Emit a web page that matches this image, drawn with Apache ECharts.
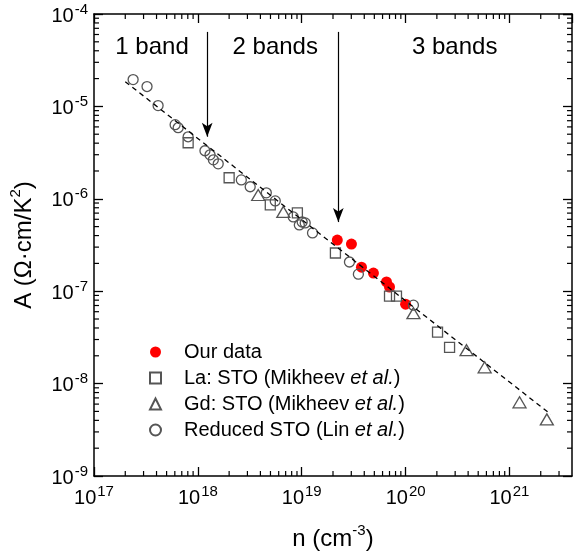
<!DOCTYPE html>
<html>
<head>
<meta charset="utf-8">
<script src="https://cdn.jsdelivr.net/npm/echarts@6/dist/echarts.min.js"></script>
<style>html,body{margin:0;padding:0;background:#fff}#c{width:580px;height:560px}</style>
</head>
<body>
<div id="c"></div>
<script>
// ---- data ----
var ourData = [[2.20e19,3.58e-7],[3.01e19,3.24e-7],[3.76e19,1.82e-7],[4.90e19,1.57e-7],[6.55e19,1.26e-7],[7.0e19,1.11e-7],[1.0e20,7.24e-8]];
var laSTO = [[8.06e17,4.04e-6],[2.0e18,1.69e-6],[4.98e18,8.59e-7],[9.08e18,7.03e-7],[2.11e19,2.59e-7],[7.0e19,8.85e-8],[8.17e19,8.85e-8],[2.03e20,3.6e-8],[2.65e20,2.47e-8]];
var gdSTO = [[3.81e18,1.10e-6],[6.65e18,7.21e-7],[1.19e20,5.78e-8],[3.86e20,2.30e-8],[5.77e20,1.50e-8],[1.25e21,6.27e-9],[2.29e21,4.10e-9]];
var reducedSTO = [[2.38e17,1.95e-5],[3.24e17,1.64e-5],[4.14e17,1.02e-5],[6.04e17,6.34e-6],[6.46e17,5.88e-6],[8.06e17,4.69e-6],[1.17e18,3.31e-6],[1.31e18,2.99e-6],[1.41e18,2.64e-6],[1.57e18,2.39e-6],[2.62e18,1.60e-6],[3.19e18,1.35e-6],[4.56e18,1.16e-6],[5.56e18,9.49e-7],[8.29e18,6.36e-7],[9.48e18,5.21e-7],[1.01e19,5.61e-7],[1.08e19,5.48e-7],[1.27e19,4.27e-7],[2.88e19,2.07e-7],[3.51e19,1.53e-7],[1.19e20,7.06e-8]];
var fitLine = [[2.0e17,1.85e-5],[2.5e21,4.65e-9]];
var arrows = [[[1.23e18,6.4e-5],[1.23e18,4.7e-6]],[[2.25e19,6.4e-5],[2.25e19,5.6e-7]]];
var bandLabels = [{name:'1 band',coord:[3.62e17,4.34e-5]},{name:'2 bands',coord:[5.56e18,4.34e-5]},{name:'3 bands',coord:[2.97e20,4.34e-5]}];
var xMin = 1e17, xMax = 4e21, yMin = 1e-9, yMax = 1e-4;
var xDecades = [17,18,19,20,21];
var yDecades = [-9,-8,-7,-6,-5];
var minorMult = [2,3,4,5,6,7,8,9];

var xMinor = [], yMinor = [];
xDecades.forEach(function(d){minorMult.forEach(function(m){var v=m*Math.pow(10,d); if(v<xMax) xMinor.push([v]);});});
yDecades.forEach(function(d){minorMult.forEach(function(m){yMinor.push([m*Math.pow(10,d)]);});});

var FONT = '"Liberation Sans", Arial, sans-serif';
var INK = '#000';
var GRAY = '#555';

function decadeLabel(v){
  var e = Math.log10(v); var r = Math.round(e);
  if (Math.abs(e-r) > 1e-6) return '';
  return '{b|10}{s|' + r + '}';
}
var tickRich = {
  b:{fontSize:20,fontFamily:FONT,color:INK,lineHeight:24,verticalAlign:'bottom'},
  s:{fontSize:15,fontFamily:FONT,color:INK,lineHeight:15,verticalAlign:'top',padding:[0,0,0,1]}
};
var nameRich = {
  b:{fontSize:24,fontFamily:FONT,color:INK,lineHeight:28,verticalAlign:'bottom'},
  s:{fontSize:15,fontFamily:FONT,color:INK,lineHeight:15,verticalAlign:'top'}
};

var chart = echarts.init(document.getElementById('c'), null, {renderer:'canvas'});

function mainAxisCommon(){
  return {
    axisLine:{show:true,onZero:false,lineStyle:{color:INK,width:1.5}},
    axisTick:{show:true,inside:true,length:9,lineStyle:{color:INK,width:1.3}},
    splitLine:{show:false},
    minorTick:{show:false}
  };
}

var xa0 = Object.assign(mainAxisCommon(), {
  type:'log', logBase:10, min:xMin, max:xMax, position:'bottom',
  axisLabel:{formatter:decadeLabel, margin:8, rich:tickRich, showMaxLabel:false},
  name:'{b|n (cm}{s|-3}{b|)}', nameLocation:'middle', nameGap:47,
  nameTextStyle:{rich:nameRich}
});
var xa1 = Object.assign(mainAxisCommon(), {
  type:'log', logBase:10, min:xMin, max:xMax, position:'top',
  axisLabel:{show:false}
});
var ya0 = Object.assign(mainAxisCommon(), {
  type:'log', logBase:10, min:yMin, max:yMax, position:'left',
  axisLabel:{formatter:decadeLabel, margin:6, rich:tickRich},
  name:'{b|A (Ω·cm/K}{s|2}{b|)}', nameLocation:'middle', nameGap:58, nameRotate:90,
  nameTextStyle:{rich:nameRich}
});
var ya1 = Object.assign(mainAxisCommon(), {
  type:'log', logBase:10, min:yMin, max:yMax, position:'right',
  axisLabel:{show:false}
});

function openStyle(){ return {color:'rgba(0,0,0,0)', borderColor:GRAY, borderWidth:1.3, opacity:1}; }

var legendRich = {
  n:{fontSize:20,fontFamily:FONT,color:INK,lineHeight:20},
  i:{fontSize:20,fontFamily:FONT,color:INK,lineHeight:20,fontStyle:'italic'}
};

var option = {
  animation:false,
  backgroundColor:'#fff',
  textStyle:{fontFamily:FONT},
  grid:{left:94,right:8,top:14,bottom:84,containLabel:false},
  xAxis:[xa0, xa1],
  yAxis:[ya0, ya1],
  legend:{
    orient:'vertical', left:144, top:337, itemWidth:11, itemHeight:11, itemGap:6,
    data:['Our data','La: STO (Mikheev et al.)','Gd: STO (Mikheev et al.)','Reduced STO (Lin et al.)'],
    formatter:function(name){
      return name.replace(/^(.*?)et al\.(.*)$/, function(_, a, b){ return '{n|'+a+'}{i|et al.}{n|'+b+'}'; })
                 .replace(/^([^{].*)$/, '{n|$1}');
    },
    textStyle:{rich:legendRich, padding:[0,0,0,18]},
    selectedMode:false
  },
  series:[
    {name:'Our data', type:'scatter', data:ourData, symbol:'circle', symbolSize:11,
     itemStyle:{color:'#ff0000', opacity:1}, z:2},
    {name:'La: STO (Mikheev et al.)', type:'scatter', data:laSTO, symbol:'rect', symbolSize:10,
     itemStyle:openStyle(), z:3},
    {name:'Gd: STO (Mikheev et al.)', type:'scatter', data:gdSTO, symbol:'triangle', symbolSize:[13,11],
     itemStyle:openStyle(), z:3},
    {name:'Reduced STO (Lin et al.)', type:'scatter', data:reducedSTO, symbol:'circle', symbolSize:10,
     itemStyle:openStyle(), z:3},
    {name:'fit', type:'line', data:fitLine, symbol:'none', silent:true, z:4,
     lineStyle:{color:'#000', width:1.3, type:[5,4]},
     markLine:{
       silent:true, symbol:['none','arrow'], symbolSize:[8,14], animation:false,
       lineStyle:{color:'#000', width:1.2, type:'solid'}, label:{show:false},
       data: arrows.map(function(a){ return [{coord:a[0]},{coord:a[1]}]; })
     },
     markPoint:{
       silent:true, symbol:'circle', symbolSize:0, animation:false,
       label:{show:true, position:'inside', color:INK, fontSize:24, fontFamily:FONT, formatter:'{b}'},
       data: bandLabels.map(function(b){ return {name:b.name, coord:b.coord}; })
     }
    },
    {name:'xminor', type:'custom', data:xMinor, silent:true, clip:false, z:5,
     encode:{x:0},
     renderItem:function(params, api){
       var cs = params.coordSys;
       var x = api.coord([api.value(0), yMin])[0];
       var yb = cs.y + cs.height, yt = cs.y;
       return {type:'group', children:[
         {type:'line', shape:{x1:x,y1:yb,x2:x,y2:yb-5}, style:{stroke:INK,lineWidth:1.2}},
         {type:'line', shape:{x1:x,y1:yt,x2:x,y2:yt+5}, style:{stroke:INK,lineWidth:1.2}}
       ]};
     }},
    {name:'yminor', type:'custom', data:yMinor, silent:true, clip:false, z:5,
     encode:{y:0},
     renderItem:function(params, api){
       var cs = params.coordSys;
       var y = api.coord([xMin, api.value(0)])[1];
       var xl = cs.x, xr = cs.x + cs.width;
       return {type:'group', children:[
         {type:'line', shape:{x1:xl,y1:y,x2:xl+5,y2:y}, style:{stroke:INK,lineWidth:1.2}},
         {type:'line', shape:{x1:xr,y1:y,x2:xr-5,y2:y}, style:{stroke:INK,lineWidth:1.2}}
       ]};
     }}
  ]
};
chart.setOption(option);
</script>
</body>
</html>
